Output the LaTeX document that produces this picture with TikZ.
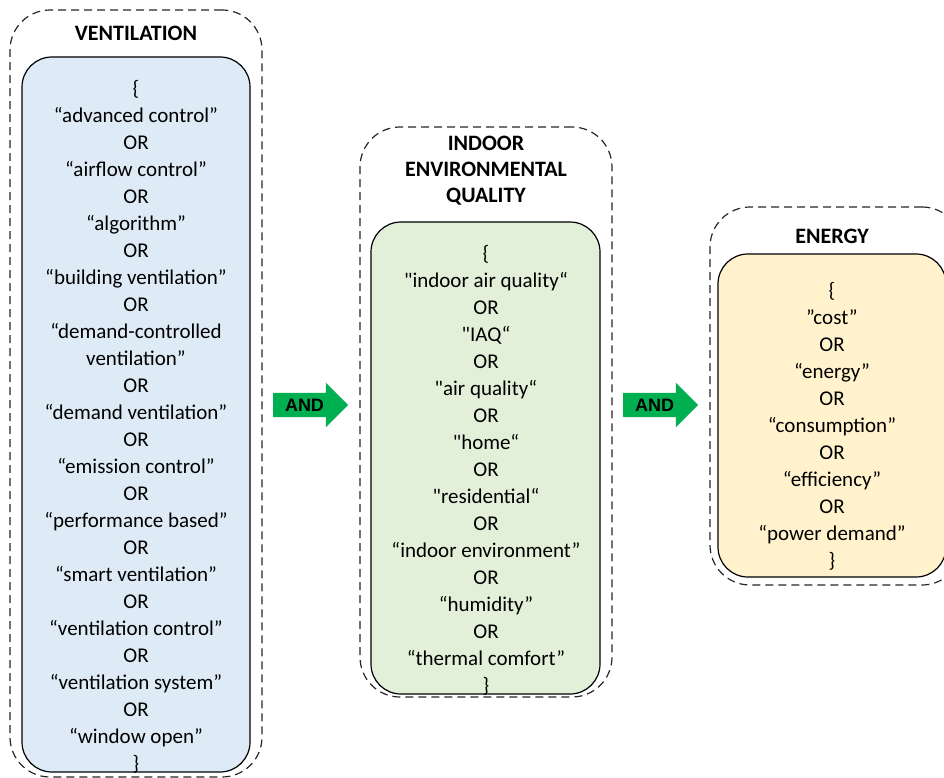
\documentclass[tikz,border=0pt]{standalone}
\usepackage{fontspec}
\usepackage{xcolor}
\usepackage{tikz}
\setmainfont[Ligatures=TeXOff]{Carlito}
\newfontfamily\andfont{Liberation Sans}
\usetikzlibrary{shapes.arrows}

\definecolor{ventblue}{HTML}{DEEBF7}
\definecolor{ieqgreen}{HTML}{E2F0D9}
\definecolor{energyyellow}{HTML}{FFF2CC}
\definecolor{andgreen}{HTML}{00B050}

\begin{document}
\begin{tikzpicture}[x=1pt,y=-1pt,
        group/.style={draw=black!85, dash pattern=on 8pt off 5pt, line width=1.2pt, rounded corners=40pt},
        termbox/.style={draw, line width=1.2pt, rounded corners=30pt},
        terms/.style={align=center, inner sep=0pt, font=\fontsize{21}{27}\selectfont},
        heading/.style={align=center, inner sep=0pt, font=\fontsize{22}{26}\selectfont\bfseries},
        andarrow/.style={single arrow, fill=andgreen, single arrow head extend=10pt, single arrow tip angle=90,
            minimum height=75pt, inner xsep=2pt, inner ysep=5.5pt, text height=13pt, text depth=0pt,
            font=\andfont\fontsize{18}{18}\selectfont\bfseries}]
        \useasboundingbox (0,0) rectangle (944,778);
        \clip (0,0) rectangle (944,778);
        %\draw[red] (0,0) rectangle (944,778);
        \node[group, minimum width=252pt, minimum height=767pt] (vent-group) at (136,393.5) {};
        \node[group, minimum width=252pt, minimum height=570pt] (ieq-group) at (486,412) {};
        \node[group, minimum width=252pt, minimum height=378pt] (energy-group) at (836,396) {};
        \node[termbox, fill=ventblue, minimum width=228pt, minimum height=715pt] (vent) at (136,414.5) {};
        \node[termbox, fill=ieqgreen, minimum width=229pt, minimum height=472pt] (ieq) at (485.5,458) {};
        \node[termbox, fill=energyyellow, minimum width=228pt, minimum height=323pt] (energy) at (832,415.5) {};
        \node[heading] (vent-title) at (136,33) {VENTILATION};
        \node[heading] (ieq-title) at (486,171) {INDOOR\\ENVIRONMENTAL\\QUALITY};
        \node[heading] (energy-title) at (832,236) {ENERGY};
        \node[terms] (vent-terms) at (136,426.5) {\{\\“advanced control”\\OR\\“airflow control”\\OR\\“algorithm”\\OR\\“building ventilation”\\OR\\“demand-controlled\\ventilation”\\OR\\“demand ventilation”\\OR\\“emission control”\\OR\\“performance based”\\OR\\“smart ventilation”\\OR\\“ventilation control”\\OR\\“ventilation system”\\OR\\“window open”\\\}};
        \node[terms] (ieq-terms) at (486,470) {\{\\"indoor air quality“\\OR\\"IAQ“\\OR\\"air quality“\\OR\\"home“\\OR\\"residential“\\OR\\“indoor environment”\\OR\\“humidity”\\OR\\“thermal comfort”\\\}};
        \node[terms] (energy-terms) at (832,426.5) {\{\\”cost”\\OR\\“energy”\\OR\\“consumption”\\OR\\“efficiency”\\OR\\“power demand”\\\}};
        \node[andarrow] (and-1) at (304.5,405) {AND};
        \node[andarrow] (and-2) at (654.5,405) {AND};
    \end{tikzpicture}
\end{document}
